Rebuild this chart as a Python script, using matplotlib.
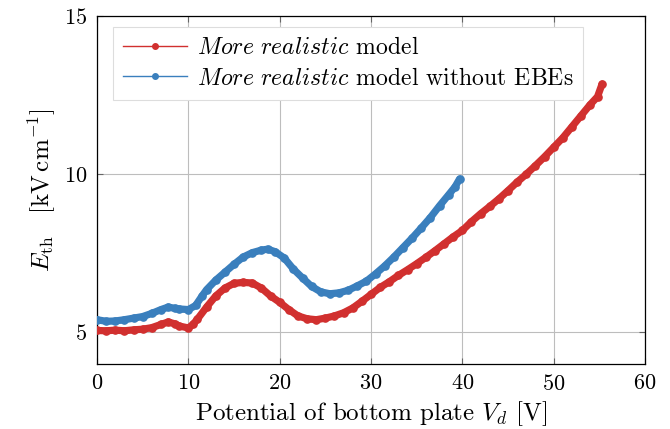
import matplotlib.pyplot as plt
from matplotlib.lines import Line2D

plt.rcParams['font.family'] = ['cmr10', 'DejaVu Serif']
plt.rcParams['mathtext.fontset'] = 'cm'
plt.rcParams['axes.formatter.use_mathtext'] = True
plt.rcParams['font.size'] = 16

# More realistic model
vd_red = [0, 1, 2, 3, 4, 5, 6, 7, 7.8, 8.5, 9, 10, 10.5, 11, 12, 13, 14, 15, 16, 17,
          18, 19, 20, 21, 22, 23, 24, 25, 26, 27, 28, 29, 30, 31, 32, 33, 34, 35, 36,
          37, 38, 39, 40, 41, 42, 43, 44, 45, 46, 47, 48, 49, 50, 51, 52, 53, 54, 54.8, 55.3]
eth_red = [5.06, 5.05, 5.07, 5.05, 5.08, 5.10, 5.15, 5.25, 5.33, 5.27, 5.20, 5.14, 5.25, 5.42,
           5.80, 6.15, 6.40, 6.55, 6.58, 6.56, 6.40, 6.15, 5.95, 5.72, 5.52, 5.43, 5.40, 5.45,
           5.52, 5.62, 5.77, 5.98, 6.20, 6.42, 6.60, 6.80, 6.98, 7.17, 7.37, 7.58, 7.80, 8.02,
           8.22, 8.50, 8.75, 8.98, 9.22, 9.48, 9.75, 10.00, 10.27, 10.55, 10.85, 11.15, 11.50,
           11.85, 12.20, 12.45, 12.85]

# without EBEs
vd_blue = [0, 1, 2, 3, 4, 5, 6, 7, 7.8, 8.5, 9, 10, 10.8, 11.5, 12, 13, 14, 15, 16, 17, 18,
           18.7, 19.5, 20.5, 21.5, 22.5, 23.5, 24.5, 25.5, 26.5, 27.5, 28.5, 29.5, 30.5, 31.5,
           32.5, 33.5, 34.5, 35.5, 36.5, 37.5, 38.5, 39.2, 39.7]
eth_blue = [5.40, 5.35, 5.36, 5.40, 5.45, 5.50, 5.60, 5.72, 5.80, 5.76, 5.74, 5.72, 5.85, 6.15,
            6.35, 6.65, 6.90, 7.15, 7.38, 7.52, 7.60, 7.63, 7.55, 7.35, 7.00, 6.72, 6.45, 6.28,
            6.22, 6.25, 6.33, 6.47, 6.62, 6.85, 7.10, 7.38, 7.68, 7.98, 8.30, 8.63, 9.00, 9.35,
            9.60, 9.85]

red = '#d1302f'
blue = '#3a7fbd'

fig = plt.figure(figsize=(6.7, 4.29), dpi=100)
ax = fig.add_axes([0.1448, 0.1515, 0.8179, 0.8112])

# dichte Punktwolke -> breites Band
ax.plot(vd_red, eth_red, color=red, lw=5.2, solid_capstyle='round', zorder=3)
ax.plot(vd_red, eth_red, color=red, lw=0.8, marker='o', ms=5.2, zorder=4)
ax.plot(vd_blue, eth_blue, color=blue, lw=5.2, solid_capstyle='round', zorder=3)
ax.plot(vd_blue, eth_blue, color=blue, lw=0.8, marker='o', ms=5.2, zorder=4)

handles = [Line2D([], [], color=red, lw=1.0, marker='o', ms=4),
           Line2D([], [], color=blue, lw=1.0, marker='o', ms=4)]
labels = [r'$\mathit{More\ realistic}$ model',
          r'$\mathit{More\ realistic}$ model without EBEs']
leg = ax.legend(handles, labels, loc='upper left', bbox_to_anchor=(0.029, 0.968),
                borderaxespad=0, fancybox=False, framealpha=1, edgecolor='#dddddd',
                fontsize=17.1, handlelength=2.7, labelspacing=0.35, borderpad=0.42,
                handletextpad=0.4)
leg.get_frame().set_linewidth(0.8)

ax.set_xlim(0, 60)
ax.set_ylim(4, 15)
ax.set_xticks([0, 10, 20, 30, 40, 50, 60])
ax.set_yticks([5, 10, 15])
ax.grid(True, color='#bdbdbd', lw=0.8)
ax.set_axisbelow(True)
ax.tick_params(direction='in', top=True, right=True, length=4, labelsize=16,
               color='#666666', pad=7)
for s in ax.spines.values():
    s.set_linewidth(0.9)

ax.set_xlabel(r'Potential of bottom plate $V_d$ [V]', fontsize=18, labelpad=4)
ax.set_ylabel(r'$E_{\mathrm{th}}\ \ \ [\mathrm{kV\,cm}^{-1}]$', fontsize=18, labelpad=4)

fig.savefig('out.png', dpi=100)
